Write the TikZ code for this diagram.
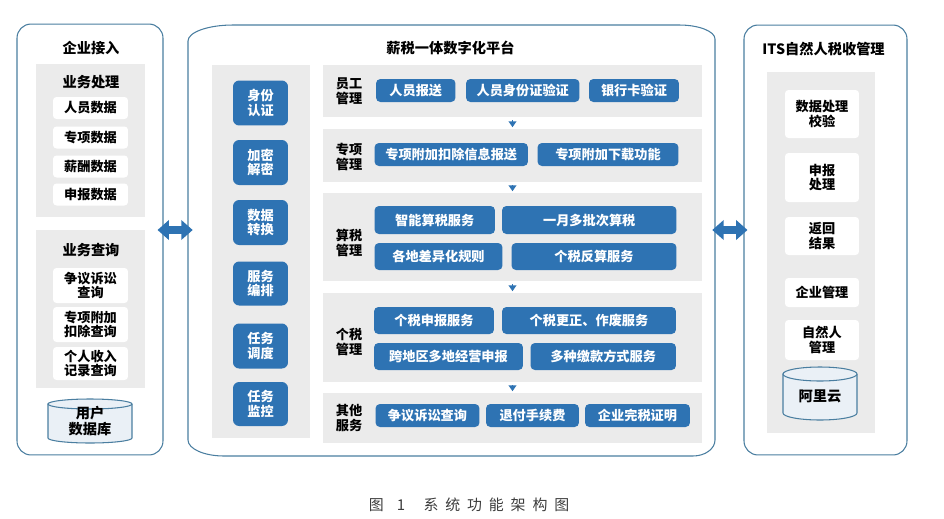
\documentclass[tikz,border=0pt]{standalone}
\usepackage{fontspec}
\setmainfont{Noto Sans CJK SC}
\usetikzlibrary{arrows.meta}
\definecolor{framec}{RGB}{74,126,160}
\definecolor{panelc}{RGB}{235,235,235}
\definecolor{tilec}{RGB}{46,115,179}
\definecolor{dbfill}{RGB}{234,240,246}
\definecolor{capc}{RGB}{60,60,60}
\newcommand\tilefont{\bfseries\fontsize{7.5pt}{8.4pt}\selectfont}
\newcommand\headfont{\bfseries\fontsize{8.1pt}{9pt}\selectfont}
\begin{document}
\begin{tikzpicture}[x=0.02cm,y=-0.02cm,
  frame/.style={draw=framec,line width=0.6pt,fill=white,rounded corners=0.28cm,inner sep=0pt},
  panel/.style={fill=panelc,inner sep=0pt},
  blk/.style={fill=tilec,text=white,rounded corners=2.5pt,font=\tilefont,inner sep=0pt,align=center},
  wbox/.style={fill=white,rounded corners=2pt,font=\tilefont,inner sep=0pt,align=center},
  heading/.style={font=\headfont,inner sep=0pt},
  rowlabel/.style={font=\tilefont,align=center,inner sep=0pt},
  drum/.style={draw=framec,line width=0.6pt,fill=dbfill},
  flow/.style={draw=tilec,line width=0.9pt,-{Triangle[width=4.4pt,length=3.4pt]},shorten <=1.6pt,shorten >=0.8pt},
  bigarrow/.style={draw=tilec,line width=4.4pt,{Triangle[width=11pt,length=6.5pt]}-{Triangle[width=11pt,length=6.5pt]}}]
  \useasboundingbox (0,0) rectangle (944,518);

  % enterprise side
  \node[frame,minimum width=2.92cm,minimum height=8.62cm] (entry) at (90,239.5) {};
  \node[heading] (entrytitle) at (91,48) {企业接入};
  \node[panel,minimum width=2.18cm,minimum height=3.06cm] (proc) at (90.5,140.5) {};
  \node[heading] (proctitle) at (91,82) {业务处理};
  \node[wbox,minimum width=1.5cm,minimum height=0.44cm] (persdata) at (90.5,108) {人员数据};
  \node[wbox,minimum width=1.5cm,minimum height=0.44cm] (specdata) at (90.5,137.5) {专项数据};
  \node[wbox,minimum width=1.5cm,minimum height=0.44cm] (paydata) at (90.5,166.5) {薪酬数据};
  \node[wbox,minimum width=1.5cm,minimum height=0.44cm] (decldata) at (90.5,194.5) {申报数据};
  \node[panel,minimum width=2.18cm,minimum height=3.16cm] (query) at (90.5,309) {};
  \node[heading] (querytitle) at (91,250) {业务查询};
  \node[wbox,minimum width=1.5cm,minimum height=0.7cm] (disputeq) at (90.5,285.5) {争议诉讼\\查询};
  \node[wbox,minimum width=1.5cm,minimum height=0.7cm] (deductq) at (90.5,324.5) {专项附加\\扣除查询};
  \node[wbox,minimum width=1.5cm,minimum height=0.66cm] (incomeq) at (90.5,363.5) {个人收入\\记录查询};
  \draw[drum] (48,404) -- (48,438) arc[start angle=180,end angle=360,x radius=0.84cm,y radius=0.1cm]
    -- (132,404) arc[start angle=0,end angle=180,x radius=0.84cm,y radius=0.1cm] -- cycle;
  \draw[drum] (48,404) arc[start angle=180,end angle=360,x radius=0.84cm,y radius=0.1cm];
  \node[rowlabel,font=\headfont] (userdb) at (90,421) {用户\\数据库};

  % platform
  \draw[draw=framec,line width=0.6pt,fill=white] (188,41) arc[start angle=180,end angle=90,x radius=0.9cm,y radius=0.32cm]
    -- (679,25) arc[start angle=90,end angle=0,x radius=0.72cm,y radius=0.28cm]
    -- (715,440) arc[start angle=0,end angle=-90,x radius=0.44cm,y radius=0.32cm]
    -- (224,456) arc[start angle=270,end angle=180,x radius=0.72cm,y radius=0.32cm] -- cycle;
  \node[inner sep=0pt,minimum width=10.54cm,minimum height=8.62cm] (platform) at (451.5,240.5) {};
  \node[heading] (platformtitle) at (450.5,48) {薪税一体数字化平台};
  \node[panel,minimum width=1.96cm,minimum height=7.46cm] (svc) at (261,251.5) {};
  \node[blk,rounded corners=3.5pt,minimum width=1.1cm,minimum height=0.9cm] (auth) at (260.5,103) {身份\\认证};
  \node[blk,rounded corners=3.5pt,minimum width=1.1cm,minimum height=0.9cm] (crypt) at (260.5,162.5) {加密\\解密};
  \node[blk,rounded corners=3.5pt,minimum width=1.1cm,minimum height=0.9cm] (convert) at (260.5,222.5) {数据\\转换};
  \node[blk,rounded corners=3.5pt,minimum width=1.1cm,minimum height=0.88cm] (orch) at (260.5,283.5) {服务\\编排};
  \node[blk,rounded corners=3.5pt,minimum width=1.1cm,minimum height=0.9cm] (sched) at (260.5,346) {任务\\调度};
  \node[blk,rounded corners=3.5pt,minimum width=1.1cm,minimum height=0.88cm] (monitor) at (260.5,404) {任务\\监控};

  \node[panel,minimum width=7.58cm,minimum height=1.04cm] (staff) at (512.5,91) {};
  \node[panel,minimum width=7.58cm,minimum height=1.06cm] (special) at (512.5,155.5) {};
  \node[panel,minimum width=7.58cm,minimum height=1.76cm] (calc) at (512.5,237) {};
  \node[panel,minimum width=7.58cm,minimum height=1.78cm] (iit) at (512.5,337.5) {};
  \node[panel,minimum width=7.58cm,minimum height=1.0cm] (other) at (512.5,418) {};
  \node[rowlabel] (stafflbl) at (349,91.5) {员工\\管理};
  \node[rowlabel] (speciallbl) at (349,157) {专项\\管理};
  \node[rowlabel] (calclbl) at (349,243) {算税\\管理};
  \node[rowlabel] (iitlbl) at (349,342) {个税\\管理};
  \node[rowlabel] (otherlbl) at (349,418) {其他\\服务};

  \node[blk,minimum width=1.59cm,minimum height=0.46cm] (report) at (415.75,90.5) {人员报送};
  \node[blk,minimum width=2.27cm,minimum height=0.46cm] (idcheck) at (522.75,90.5) {人员身份证验证};
  \node[blk,minimum width=1.8cm,minimum height=0.46cm] (bankcheck) at (634,90.5) {银行卡验证};
  \node[blk,minimum width=3.07cm,minimum height=0.46cm] (dedsend) at (451.25,154.5) {专项附加扣除信息报送};
  \node[blk,minimum width=2.82cm,minimum height=0.46cm] (dedload) at (608,154.5) {专项附加下载功能};
  \node[blk,minimum width=2.41cm,minimum height=0.56cm] (smartcalc) at (434.75,220) {智能算税服务};
  \node[blk,minimum width=3.49cm,minimum height=0.56cm] (batchcalc) at (589.25,220) {一月多批次算税};
  \node[blk,minimum width=2.56cm,minimum height=0.54cm] (localrule) at (438.5,256.5) {各地差异化规则};
  \node[blk,minimum width=3.3cm,minimum height=0.54cm] (reverse) at (594,256.5) {个税反算服务};
  \node[blk,minimum width=2.4cm,minimum height=0.54cm] (declare) at (434,320.5) {个税申报服务};
  \node[blk,minimum width=3.48cm,minimum height=0.54cm] (correct) at (589,320.5) {个税更正、作废服务};
  \node[blk,minimum width=2.98cm,minimum height=0.54cm] (crossreg) at (448.5,356.5) {跨地区多地经营申报};
  \node[blk,minimum width=2.91cm,minimum height=0.54cm] (paymodes) at (603.25,356.5) {多种缴款方式服务};
  \node[blk,minimum width=2.08cm,minimum height=0.46cm] (dispute) at (427.5,415.5) {争议诉讼查询};
  \node[blk,minimum width=1.86cm,minimum height=0.46cm] (refund) at (532.5,415.5) {退付手续费};
  \node[blk,minimum width=2.1cm,minimum height=0.46cm] (taxcert) at (637.5,415.5) {企业完税证明};

  \draw[flow] (staff) -- (special);
  \draw[flow] (special) -- (calc);
  \draw[flow] (calc) -- (iit);
  \draw[flow] (iit) -- (other);

  % ITS side
  \node[frame,minimum width=3.26cm,minimum height=8.6cm] (its) at (825.5,240) {};
  \node[heading] (itstitle) at (823.5,49) {ITS自然人税收管理};
  \node[panel,minimum width=2.16cm,minimum height=7.22cm] (itspanel) at (821,252.5) {};
  \node[wbox,minimum width=1.48cm,minimum height=0.96cm] (verify) at (822,114) {数据处理\\校验};
  \node[wbox,minimum width=1.48cm,minimum height=0.98cm] (handle) at (822,177.5) {申报\\处理};
  \node[wbox,minimum width=1.48cm,minimum height=0.76cm] (result) at (822,236) {返回\\结果};
  \node[wbox,minimum width=1.48cm,minimum height=0.58cm] (firms) at (822,292.5) {企业管理};
  \node[wbox,minimum width=1.48cm,minimum height=0.8cm] (persons) at (822,340) {自然人\\管理};
  \draw[drum] (783,374) -- (783,413) arc[start angle=180,end angle=360,x radius=0.74cm,y radius=0.14cm]
    -- (857,374) arc[start angle=0,end angle=180,x radius=0.74cm,y radius=0.14cm] -- cycle;
  \draw[drum] (783,374) arc[start angle=180,end angle=360,x radius=0.74cm,y radius=0.14cm];
  \node[heading] (cloud) at (820,396) {阿里云};

  \draw[bigarrow,shorten <=-0.12cm,shorten >=-0.1cm] (entry.east |- 0,230) -- (platform.west |- 0,230);
  \draw[bigarrow,shorten <=-0.06cm,shorten >=-0.08cm] (platform.east |- 0,230) -- (its.west |- 0,230);

  \node[font=\fontsize{8.5pt}{10pt}\selectfont,text=capc] (caption) at (469,505)
    {图\hspace{7.5pt}1\hspace{10.5pt}系\hspace{3.9pt}统\hspace{3.9pt}功\hspace{3.9pt}能\hspace{3.9pt}架\hspace{3.9pt}构\hspace{3.9pt}图};
\end{tikzpicture}
\end{document}
